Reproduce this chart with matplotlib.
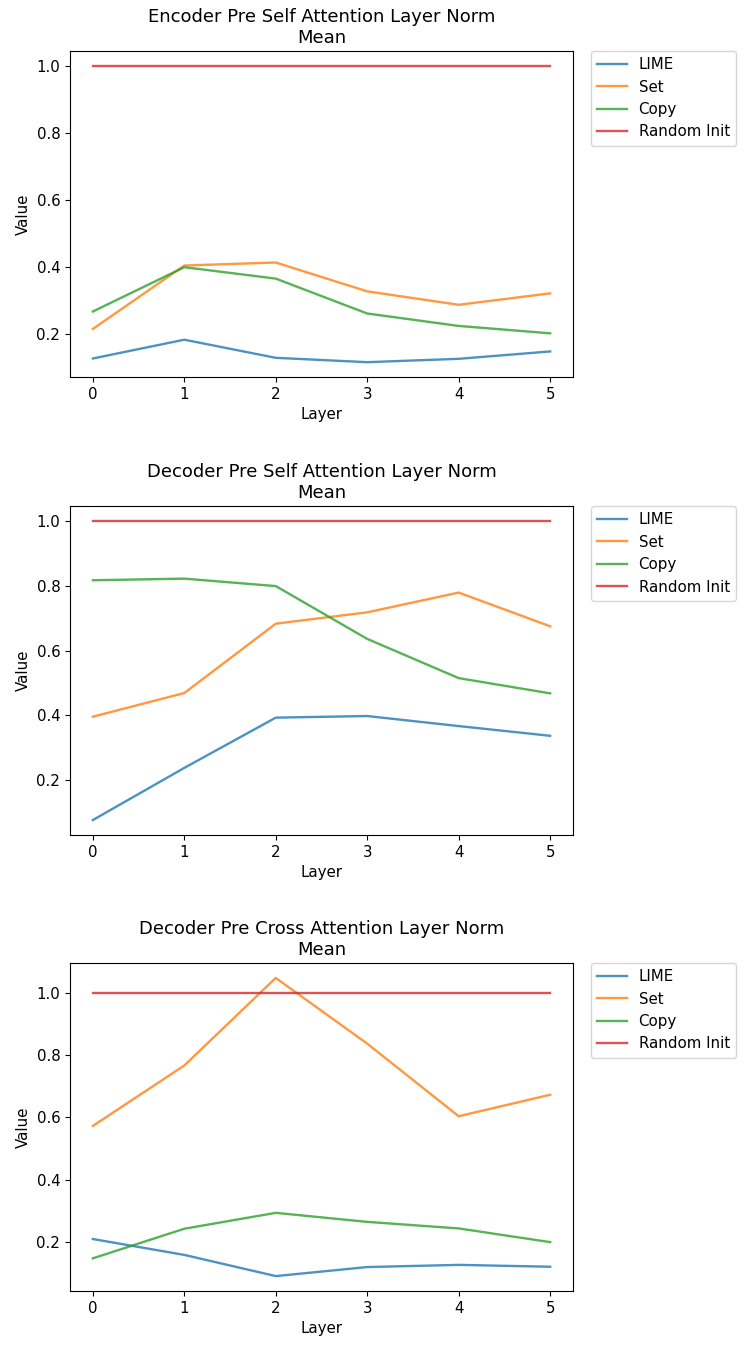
import matplotlib
matplotlib.use("Agg")
import matplotlib.pyplot as plt

plt.rcParams["font.size"] = 10.8

layers = [0, 1, 2, 3, 4, 5]
series_names = ["LIME", "Set", "Copy", "Random Init"]
colors = ["#1f77b4", "#ff7f0e", "#2ca02c", "#d62728"]

titles = [
    "Encoder Pre Self Attention Layer Norm\nMean",
    "Decoder Pre Self Attention Layer Norm\nMean",
    "Decoder Pre Cross Attention Layer Norm\nMean",
]

enc_self_lime = [0.128, 0.184, 0.130, 0.117, 0.127, 0.149]
enc_self_set = [0.216, 0.405, 0.414, 0.328, 0.288, 0.322]
enc_self_copy = [0.268, 0.400, 0.366, 0.262, 0.225, 0.203]
enc_self_rand = [1.0, 1.0, 1.0, 1.0, 1.0, 1.0]

dec_self_lime = [0.077, 0.238, 0.393, 0.398, 0.367, 0.337]
dec_self_set = [0.396, 0.469, 0.683, 0.718, 0.779, 0.675]
dec_self_copy = [0.817, 0.822, 0.799, 0.636, 0.515, 0.468]
dec_self_rand = [1.0, 1.0, 1.0, 1.0, 1.0, 1.0]

dec_cross_lime = [0.210, 0.159, 0.091, 0.120, 0.127, 0.121]
dec_cross_set = [0.573, 0.767, 1.048, 0.837, 0.604, 0.673]
dec_cross_copy = [0.148, 0.243, 0.294, 0.265, 0.244, 0.200]
dec_cross_rand = [1.0, 1.0, 1.0, 1.0, 1.0, 1.0]

panels = [
    [enc_self_lime, enc_self_set, enc_self_copy, enc_self_rand],
    [dec_self_lime, dec_self_set, dec_self_copy, dec_self_rand],
    [dec_cross_lime, dec_cross_set, dec_cross_copy, dec_cross_rand],
]

W, H = 744, 1351
fig = plt.figure(figsize=(W / 100, H / 100), dpi=100)

# axes boxes in pixels: left, top, right, bottom
boxes = [(70, 51, 573, 377), (70, 506, 573, 835), (70, 963, 573, 1291)]

for (l, t, r, b), title, data in zip(boxes, titles, panels):
    ax = fig.add_axes([l / W, 1 - b / H, (r - l) / W, (b - t) / H])
    for name, vals, c in zip(series_names, data, colors):
        ax.plot(layers, vals, color=c, alpha=0.8, lw=1.7, label=name)
    ax.set_title(title, fontsize=13)
    ax.set_xlabel("Layer")
    ax.set_ylabel("Value")
    ax.set_xticks(layers)
    ax.legend(loc="upper left", bbox_to_anchor=(1.035, 1), borderaxespad=0)

fig.savefig("out.png", dpi=100)
